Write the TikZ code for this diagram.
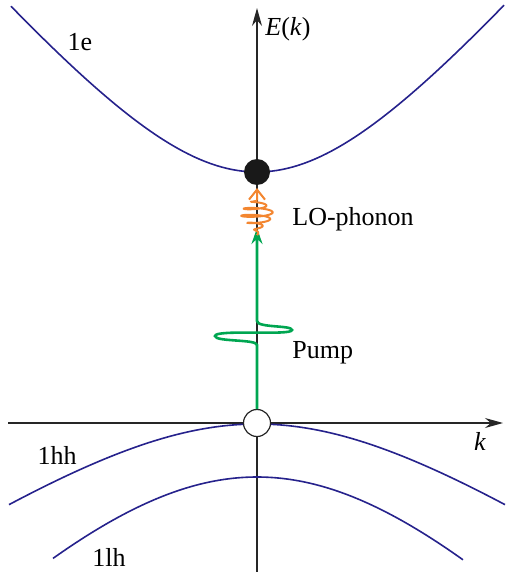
\documentclass[tikz,border=0pt]{standalone}
\usepackage{fontspec}
\setmainfont{Liberation Serif}
\usepackage{tikz}
\usetikzlibrary{arrows.meta}
\definecolor{bandblue}{RGB}{38,34,140}
\definecolor{pumpgreen}{RGB}{0,166,81}
\definecolor{phononorange}{RGB}{243,134,48}

\begin{document}
\begin{tikzpicture}[x=0.5pt, y=-0.5pt,
  band/.style={bandblue, line width=0.8pt},
  axis/.style={black!85, line width=0.6pt, -{Stealth[length=9pt, width=5pt]}},
  lbl/.style={font=\fontsize{13}{15}\selectfont, inner sep=0pt}]
\useasboundingbox (0,0) rectangle (505,572);

% axes
\coordinate (kstart) at (8,423);
\coordinate (kend) at (503,423);
\coordinate (Estart) at (257,572);
\coordinate (Eend) at (257,8);
\draw[axis] (kstart) -- (kend);
\draw[axis] (Estart) -- (Eend);
\node[lbl] (Elabel) at (288,29) {\textit{E}(\textit{k})};
\node[lbl] (klabel) at (480,441) {\textit{k}};

% bands
\draw[band] plot[domain=-246:247, samples=90] ({257+\x},{172-180*(sqrt(1+(\x/150)^2)-1)});
\draw[band] plot[domain=-248:248, samples=90] ({257+\x},{424+136*(sqrt(1+(\x/200)^2)-1)});
\draw[band] plot[domain=-204:206, samples=90] ({257+\x},{477+280*(sqrt(1+(\x/250)^2)-1)});
\node[lbl] (le) at (80,42) {1e};
\node[lbl] (lhh) at (57,455) {1hh};
\node[lbl] (llh) at (109,557) {1lh};

% electron and hole
\node[circle, fill=black!90, minimum size=13pt, inner sep=0pt] (elec) at (257,172) {};
\node[circle, draw=black!85, fill=white, line width=0.6pt, minimum size=13.5pt, inner sep=0pt] (hole) at (257,423) {};

% pump pulse
\coordinate (pumptip) at (257,228);
\draw[pumpgreen, line width=1.3pt, -{Stealth[length=8pt, width=5.5pt]}]
  (hole.north) -- (257,345) .. controls (257,339) and (215,342) .. (215,336)
  .. controls (215,329) and (292,336) .. (292,330)
  .. controls (292,325) and (257,328) .. (257,321) -- (pumptip);
\node[lbl, anchor=west] (pump) at (292,353) {Pump};

% LO-phonon emission
\coordinate (phonontip) at (257,188);
\draw[phononorange, line width=1pt]
  plot[domain=0:5, samples=240, smooth]
  ({257+16*exp(-((\x-3)/1.7)^2)*sin(360*\x)},{235-7*\x+2.6*exp(-((\x-3)/1.7)^2)*cos(360*\x)})
  coordinate (phononend);
\draw[phononorange, line width=1pt, -{Straight Barb[length=5pt, width=8pt]}] (phononend) -- (phonontip);
\node[lbl, anchor=west] (phonon) at (292,219) {LO-phonon};
\end{tikzpicture}
\end{document}
